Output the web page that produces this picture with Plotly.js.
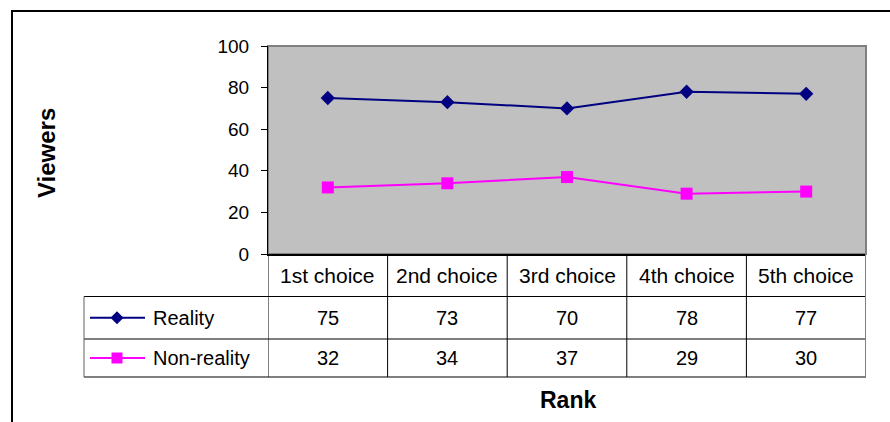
<!DOCTYPE html>
<html>
<head>
<meta charset="utf-8">
<script src="https://cdn.plot.ly/plotly-3.0.1.min.js"></script>
<style>html,body{margin:0;padding:0;background:#fff;}#chart{width:890px;height:422px;}</style>
</head>
<body>
<div id="chart"></div>
<script>
var categories = ['1st choice', '2nd choice', '3rd choice', '4th choice', '5th choice'];
var seriesNames = ['Reality', 'Non-reality'];
var reality = [75, 73, 70, 78, 77];
var nonReality = [32, 34, 37, 29, 30];
var yTicks = [0, 20, 40, 60, 80, 100];

var FONT = 'Liberation Sans, Arial, sans-serif';
var W = 890, H = 422;
var L = 268, R = 866, T = 46, B = 254;
var pw = R - L, ph = B - T;
function px(x) { return (x - L) / pw; }
function py(y) { return (B - y) / ph; }

var rowTops = [254, 296.5, 339, 377];
var colors = ['#000080', '#FF00FF'];

var traces = [
  {x: categories, y: reality, name: seriesNames[0], type: 'scatter', mode: 'lines+markers',
   line: {color: colors[0], width: 2}, marker: {symbol: 'diamond', size: 11, color: colors[0]}},
  {x: categories, y: nonReality, name: seriesNames[1], type: 'scatter', mode: 'lines+markers',
   line: {color: colors[1], width: 2}, marker: {symbol: 'square', size: 12, color: colors[1]}}
];

var shapes = [];
shapes.push({type: 'rect', xref: 'paper', yref: 'paper', x0: 0, x1: 1, y0: 0, y1: 1,
  line: {color: '#808080', width: 2}, layer: 'below'});
shapes.push({type: 'rect', xref: 'paper', yref: 'paper', x0: px(12), x1: px(893), y0: py(11), y1: py(425),
  line: {color: '#000', width: 2}});
shapes.push({type: 'line', xref: 'paper', yref: 'paper', x0: px(84), x1: 1, y0: py(rowTops[1]), y1: py(rowTops[1]), line: {color: '#000', width: 1}});
shapes.push({type: 'line', xref: 'paper', yref: 'paper', x0: px(84), x1: 1, y0: py(rowTops[2]), y1: py(rowTops[2]), line: {color: '#000', width: 1}});
shapes.push({type: 'line', xref: 'paper', yref: 'paper', x0: px(84), x1: 1, y0: py(rowTops[3]), y1: py(rowTops[3]), line: {color: '#808080', width: 2}});
shapes.push({type: 'line', xref: 'paper', yref: 'paper', x0: px(84), x1: px(84), y0: py(rowTops[1]), y1: py(rowTops[3]), line: {color: '#606060', width: 1}});
for (var i = 0; i <= categories.length; i++) {
  var last = (i === categories.length);
  shapes.push({type: 'line', xref: 'x', yref: 'paper', x0: i - 0.5, x1: i - 0.5, y0: 0, y1: py(rowTops[3]),
    line: {color: last ? '#808080' : '#000', width: last ? 2 : 1}});
}

var annotations = [];
categories.forEach(function (c, i) {
  annotations.push({xref: 'x', yref: 'paper', x: i, y: py((rowTops[0] + rowTops[1]) / 2), text: c,
    showarrow: false, xanchor: 'center', yanchor: 'middle', font: {family: FONT, size: 21, color: '#000'}});
});
var seriesData = [reality, nonReality];
var symbols = ['diamond', 'square'];
seriesData.forEach(function (vals, s) {
  var cy = py((rowTops[s + 1] + rowTops[s + 2]) / 2);
  vals.forEach(function (v, i) {
    annotations.push({xref: 'x', yref: 'paper', x: i, y: cy, text: String(v),
      showarrow: false, xanchor: 'center', yanchor: 'middle', font: {family: FONT, size: 20, color: '#000'}});
  });
  annotations.push({xref: 'paper', yref: 'paper', x: px(151), y: cy, text: seriesNames[s],
    showarrow: false, xanchor: 'left', yanchor: 'middle', font: {family: FONT, size: 20, color: '#000'}});
  shapes.push({type: 'line', xref: 'paper', yref: 'paper', x0: px(90), x1: px(145), y0: cy, y1: cy,
    line: {color: colors[s], width: 2}});
  var path = symbols[s] === 'diamond' ? 'M0,-6.5 L6.5,0 L0,6.5 L-6.5,0 Z' : 'M-5.5,-5.5 L5.5,-5.5 L5.5,5.5 L-5.5,5.5 Z';
  shapes.push({type: 'path', xref: 'paper', yref: 'paper', xsizemode: 'pixel', ysizemode: 'pixel',
    xanchor: px(117), yanchor: cy, path: path, fillcolor: colors[s], line: {color: colors[s], width: 0}});
});
annotations.push({xref: 'paper', yref: 'paper', x: px(46), y: py(153), text: '<b>Viewers</b>', textangle: -90,
  showarrow: false, xanchor: 'center', yanchor: 'middle', font: {family: FONT, size: 24, color: '#000'}});
annotations.push({xref: 'paper', yref: 'paper', x: px(568), y: py(400), text: '<b>Rank</b>',
  showarrow: false, xanchor: 'center', yanchor: 'middle', font: {family: FONT, size: 23, color: '#000'}});

var layout = {
  width: W, height: H,
  margin: {l: L, r: W - R, t: T, b: H - B, pad: 0},
  paper_bgcolor: '#ffffff', plot_bgcolor: '#C0C0C0',
  showlegend: false,
  font: {family: FONT, color: '#000'},
  xaxis: {type: 'category', categoryarray: categories, range: [-0.5, categories.length - 0.5],
    showticklabels: false, ticks: '', showgrid: false, zeroline: false,
    showline: true, linecolor: '#000', linewidth: 2, fixedrange: true},
  yaxis: {range: [0, 100], tickvals: yTicks, ticktext: yTicks.map(String), ticks: 'outside', ticklen: 6,
    tickcolor: '#000', tickwidth: 1, ticklabelstandoff: 8, showgrid: false, zeroline: false,
    showline: true, linecolor: '#000', linewidth: 1, tickfont: {family: FONT, size: 19, color: '#000'},
    fixedrange: true},
  shapes: shapes,
  annotations: annotations
};

Plotly.newPlot('chart', traces, layout, {staticPlot: true, displayModeBar: false});
</script>
</body>
</html>
